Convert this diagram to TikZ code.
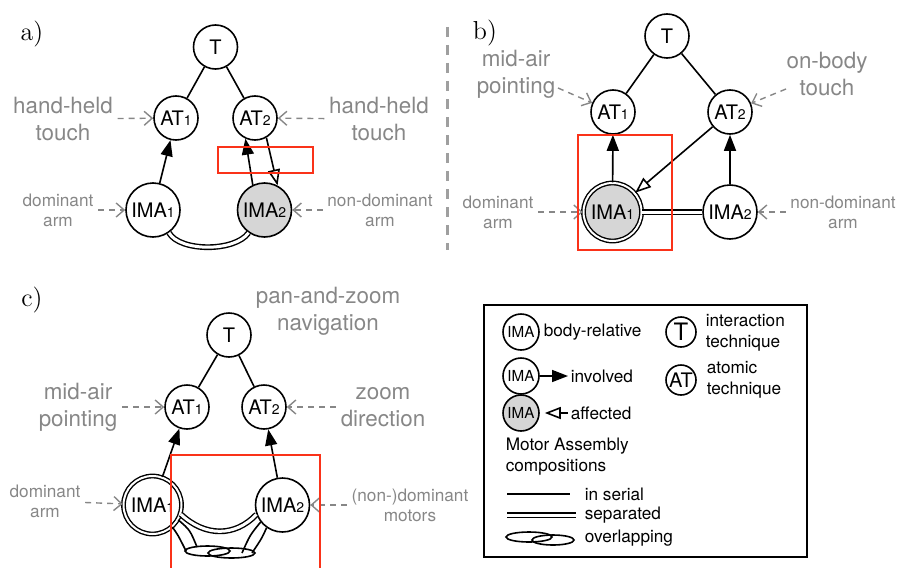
\documentclass[tikz,border=0pt]{standalone}
\usepackage{fontspec}
\newfontfamily\hv{TeX Gyre Heros}
\usetikzlibrary{arrows.meta}

\definecolor{LabelGray}{RGB}{135,135,135}
\definecolor{FillGray}{RGB}{214,214,214}
\definecolor{BoxRed}{RGB}{250,50,25}
\newcommand{\subidx}[1]{{\fontsize{7}{7}\selectfont #1}}

\begin{document}
\begin{tikzpicture}[x=0.5pt, y=-0.5pt, line width=0.8pt]

\useasboundingbox (0,0) rectangle (897,567);

\tikzset{NodeCircle/.style={circle, draw, fill=white, line width=0.8pt, minimum size=22pt,
                            inner sep=0pt, font=\hv\fontsize{10}{12}\selectfont},
         MotorCircle/.style={NodeCircle, minimum size=27pt},
         BodyCircle/.style={MotorCircle, double, double distance=1pt, line width=0.7pt, minimum size=29pt},
         LegendCircle/.style={NodeCircle, minimum size=18pt, font=\hv\fontsize{7.6}{9}\selectfont},
         GrayLabel/.style={text=LabelGray, align=center, inner sep=2pt, font=\hv\fontsize{11.2}{13.5}\selectfont},
         SmallLabel/.style={GrayLabel, font=\hv\fontsize{8.6}{10}\selectfont},
         LegendText/.style={anchor=west, align=left, inner sep=1pt, font=\hv\fontsize{8.6}{10.5}\selectfont},
         PanelLabel/.style={font=\fontsize{13}{15}\selectfont},
         PointerEdge/.style={draw=LabelGray, line width=0.7pt, dash pattern=on 3pt off 2.5pt,
                             -{Straight Barb[length=4pt,width=7pt]}},
         InvolvedEdge/.style={-{Triangle[length=8pt,width=6pt]}},
         AffectedEdge/.style={-{Triangle[length=8pt,width=6pt,fill=white]}},
         SeparatedEdge/.style={draw, double, double distance=1.5pt, line width=0.7pt},
         RedBox/.style={draw=BoxRed, line width=0.8pt}}

% Panel a
\node (aP) at (32,34) [PanelLabel] {a)};

\begin{scope}[every node/.style={NodeCircle}]
    \node (aT) at (215.5,47) {T};
    \node (aA1) at (176,118) {AT\subidx1};
    \node (aA2) at (255,118) {AT\subidx2};
    \node (aI1) at (153,210) [MotorCircle] {IMA\subidx1};
    \node (aI2) at (264.5,210) [MotorCircle, fill=FillGray] {IMA\subidx2};
\end{scope}

\node (aL1) at (63,119) [GrayLabel] {hand-held\\touch};
\node (aL2) at (379,119) [GrayLabel] {hand-held\\touch};
\node (aL3) at (58,210) [SmallLabel] {dominant\\arm};
\node (aL4) at (380,210) [SmallLabel] {non-dominant\\arm};

\path (aT) edge (aA1) (aT) edge (aA2);
\path [InvolvedEdge] (aI1) edge (aA1) (aI2.115) edge (aA2.-115);
\path [AffectedEdge] (aA2.-60) edge (aI2.62);
\draw [SeparatedEdge] (aI1.-55) .. controls (180,252) and (235,252) .. (aI2.-125);
\path [PointerEdge] (aL1) edge (aA1) (aL2) edge (aA2) (aL3) edge (aI1) (aL4) edge (aI2);

\draw [RedBox] (218,147) rectangle (313,173);

% Panel b
\draw [LabelGray!80, line width=1.5pt, dash pattern=on 5pt off 4pt] (447,27) -- (447,250);
\node (bP) at (485,33) [PanelLabel] {b)};

\begin{scope}[every node/.style={NodeCircle}]
    \node (bT) at (667,36) {T};
    \node (bA1) at (613,112) {AT\subidx1};
    \node (bA2) at (730,112) {AT\subidx2};
    \node (bI1) at (612.5,212) [BodyCircle, fill=FillGray] {IMA\subidx1};
    \node (bI2) at (730,212) [MotorCircle] {IMA\subidx2};
\end{scope}

\node (bL1) at (516,74) [GrayLabel] {mid-air\\pointing};
\node (bL2) at (827,74) [GrayLabel] {on-body\\touch};
\node (bL3) at (498,212) [SmallLabel] {dominant\\arm};
\node (bL4) at (843,212) [SmallLabel] {non-dominant\\arm};
\coordinate (bS1) at (558,88);
\coordinate (bS2) at (786,89);

\path (bT) edge (bA1) (bT) edge (bA2);
\draw [SeparatedEdge] (bI1) -- (bI2);
\path [InvolvedEdge] (bI1) edge (bA1) (bI2) edge (bA2);
\path [AffectedEdge] (bA2) edge (bI1);
\draw [PointerEdge] (bS1) -- (bA1);
\draw [PointerEdge] (bS2) -- (bA2);
\path [PointerEdge] (bL3) edge (bI1) (bL4) edge (bI2);

\draw [RedBox] (578,135) rectangle (672,250);

% Panel c
\node (cP) at (32,300) [PanelLabel] {c)};

\begin{scope}[every node/.style={NodeCircle}]
    \node (cT) at (229,335) {T};
    \node (cA1) at (187,407) {AT\subidx1};
    \node (cA2) at (264,407) {AT\subidx2};
    \node (cI1) at (152.5,505) [BodyCircle] {IMA\subidx1};
    \node (cI2) at (282.5,505) [MotorCircle] {IMA\subidx2};
\end{scope}

\node (cL0) at (328,311) [GrayLabel] {pan-and-zoom\\navigation};
\node (cL1) at (78,407) [GrayLabel] {mid-air\\pointing};
\node (cL2) at (383,407) [GrayLabel] {zoom\\direction};
\node (cL3) at (45,501) [SmallLabel] {dominant\\arm};
\node (cL4) at (410,505) [SmallLabel] {(non-)dominant\\motors};

\path (cT) edge (cA1) (cT) edge (cA2);
\path [InvolvedEdge] (cI1) edge (cA1) (cI2) edge (cA2);
\draw [SeparatedEdge] (cI1.-18) .. controls (205,537) and (235,537) .. (cI2.-160);
% overlapping lobes
\draw (cI1.-48) .. controls (178,535) .. (186,551);
\draw (cI1.-30) .. controls (190,530) .. (197,547);
\draw (cI2.-142) .. controls (250,535) .. (242,553);
\draw (cI2.-125) .. controls (262,538) .. (252,553);
\draw (207.5,551) ellipse [x radius=22.5, y radius=5];
\draw (231.5,553) ellipse [x radius=23.5, y radius=5];
\path [PointerEdge] (cL1) edge (cA1) (cL2) edge (cA2) (cL3) edge (cI1) (cL4) edge (cI2);

\draw [RedBox] (171,455) rectangle (320,575);

% Legend
\draw (484,305) rectangle (807,557);

\begin{scope}[every node/.style={LegendCircle}]
    \node (lI1) at (521,332) {IMA};
    \node (lI2) at (521,376) {IMA};
    \node (lI3) at (521,413) [fill=FillGray] {IMA};
    \node (lT) at (681,332) [minimum size=15pt, font=\hv\fontsize{12}{12}\selectfont] {T};
    \node (lA) at (681,380) [minimum size=15pt, font=\hv\fontsize{10}{10}\selectfont] {AT};
\end{scope}

\node (lB) at (541,332) [LegendText] {body-relative};
\node (lV) at (568,376) [LegendText] {involved};
\node (lF) at (568,413) [LegendText] {affected};
\node (lM) at (503,457) [LegendText] {Motor Assembly\\compositions};
\node (lS) at (582,494) [LegendText] {in serial};
\node (lD) at (582,515) [LegendText] {separated};
\node (lO) at (582,538) [LegendText] {overlapping};
\node (lTT) at (703,333) [LegendText] {interaction\\technique};
\node (lAT) at (704,380) [LegendText] {atomic\\technique};

\path [InvolvedEdge] (lI2) edge (lV);
\path [AffectedEdge, shorten >=2.5pt] (lF) edge (lI3);

\draw (507,494) -- (570,494);
\draw [SeparatedEdge] (507,515) -- (576,515);
\draw (529,537) ellipse [x radius=23, y radius=5];
\draw (553,540) ellipse [x radius=21, y radius=5];

\end{tikzpicture}
\end{document}
